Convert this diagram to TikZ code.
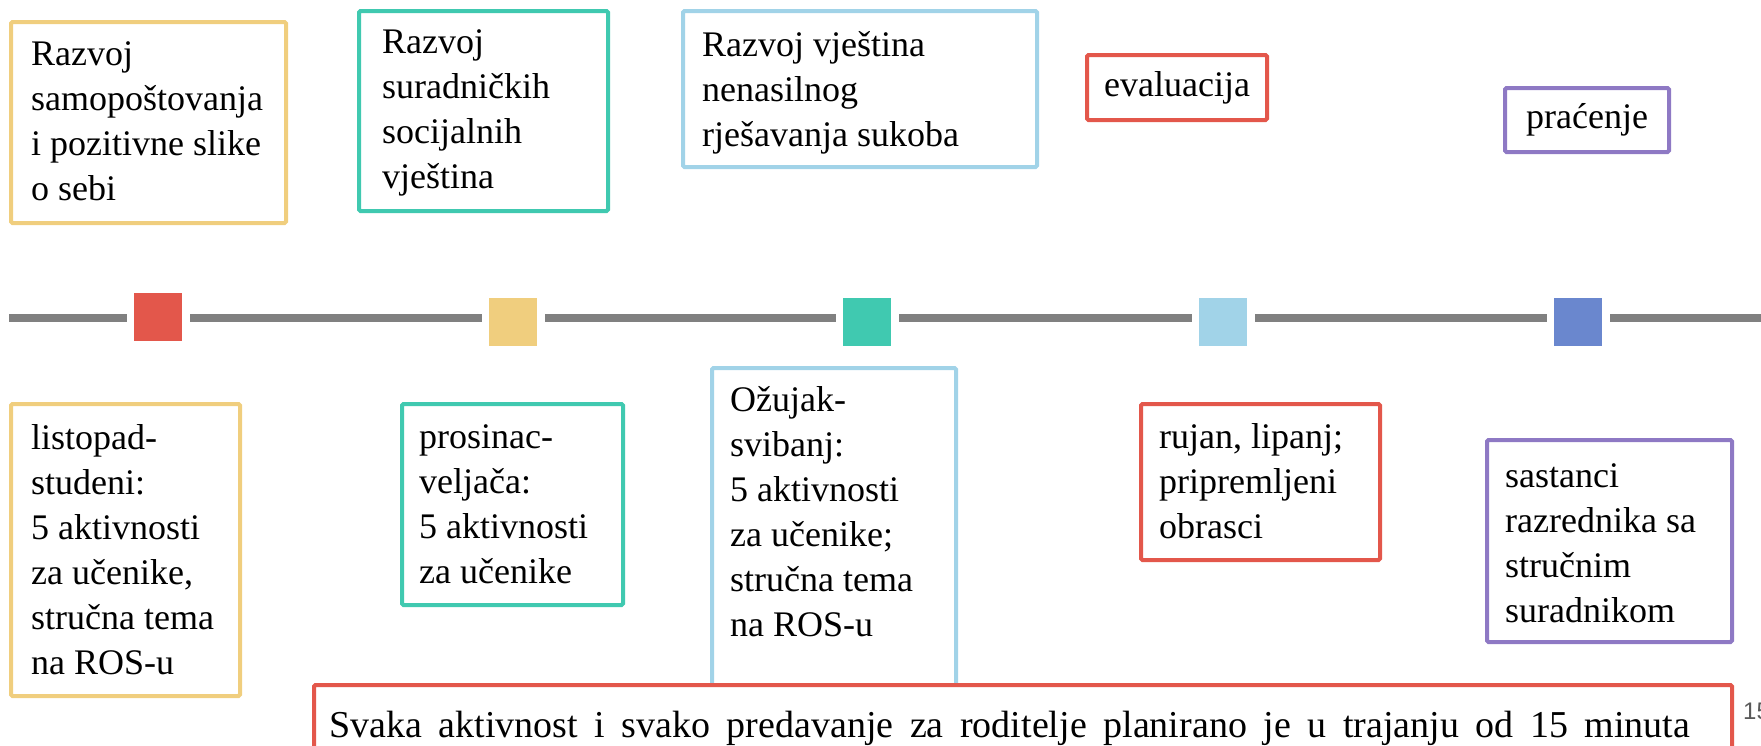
\documentclass[tikz,border=0pt]{standalone}
\usepackage{fontspec}
\setmainfont{Liberation Serif}
\setsansfont{Liberation Sans}
\definecolor{cyellow}{RGB}{240,206,126}
\definecolor{cteal}{RGB}{64,201,176}
\definecolor{cred}{RGB}{227,87,75}
\definecolor{clblue}{RGB}{161,211,232}
\definecolor{cblue}{RGB}{106,135,206}
\definecolor{cpurple}{RGB}{142,121,196}
\definecolor{cline}{RGB}{128,128,128}
\definecolor{cpage}{RGB}{89,89,89}
\newcommand{\mylines}[1]{\begin{tabular}[t]{@{}l@{}}#1\end{tabular}}
\begin{document}
\begin{tikzpicture}[x=1pt,y=-1pt,
  box/.style={draw=#1, line width=4pt, rounded corners=1.5pt, anchor=north west, inner sep=0pt},
  txt/.style={anchor=base west, inner sep=0pt, font=\fontsize{36}{45}\selectfont},
  ctxt/.style={anchor=center, inner sep=0pt, font=\fontsize{36}{45}\selectfont},
  sq/.style={fill=#1, draw=none, minimum width=48pt, minimum height=48pt, inner sep=0pt},
  tl/.style={draw=cline, line width=8pt}]
\useasboundingbox (0,0) rectangle (1761,745);
\clip (0,0) rectangle (1761,745);
% top boxes
\node[box=cyellow, minimum width=275pt, minimum height=201pt] (b1) at (9,20) {};
\node[box=cteal, minimum width=249pt, minimum height=200pt] (b2) at (357,9) {};
\node[box=clblue, minimum width=354pt, minimum height=156pt] (b3) at (681,9) {};
\node[box=cred, minimum width=180pt, minimum height=65pt] (b4) at (1085,53) {};
\node[box=cpurple, minimum width=164pt, minimum height=64pt] (b5) at (1503,86) {};
\node[txt] (t1) at (31,65) {\mylines{Razvoj\\samopoštovanja\\i pozitivne slike\\o sebi}};
\node[txt] (t2) at (382,53) {\mylines{Razvoj\\suradničkih\\socijalnih\\vještina}};
\node[txt] (t3) at (702,56) {\mylines{Razvoj vještina\\nenasilnog\\rješavanja sukoba}};
\node[ctxt] (t4) at (b4.center) {evaluacija};
\node[ctxt] (t5) at (b5.center) {praćenje};
% timeline
\coordinate (L) at (9,318);
\coordinate (R) at (1761,318);
\node[sq=cred] (s1) at (158,317) {};
\node[sq=cyellow] (s2) at (513,322) {};
\node[sq=cteal] (s3) at (867,322) {};
\node[sq=clblue] (s4) at (1223,322) {};
\node[sq=cblue] (s5) at (1578,322) {};
\draw[tl] (L) -- ([xshift=-7pt]s1.west |- L);
\draw[tl] ([xshift=8pt]s1.east |- L) -- ([xshift=-7pt]s2.west |- L);
\draw[tl] ([xshift=8pt]s2.east |- L) -- ([xshift=-7pt]s3.west |- L);
\draw[tl] ([xshift=8pt]s3.east |- L) -- ([xshift=-7pt]s4.west |- L);
\draw[tl] ([xshift=8pt]s4.east |- L) -- ([xshift=-7pt]s5.west |- L);
\draw[tl] ([xshift=8pt]s5.east |- L) -- (R);
% bottom boxes
\node[box=cyellow, minimum width=229pt, minimum height=292pt] (b6) at (9,402) {};
\node[box=cteal, minimum width=221pt, minimum height=201pt] (b7) at (400,402) {};
\node[box=clblue, minimum width=244pt, minimum height=330pt] (b8) at (710,366) {};
\node[box=cred, minimum width=239pt, minimum height=156pt] (b9) at (1139,402) {};
\node[box=cpurple, minimum width=245pt, minimum height=202pt] (b10) at (1485,438) {};
\node[txt] (t6) at (31,449) {\mylines{listopad-\\studeni:\\5 aktivnosti\\za učenike,\\stručna tema\\na ROS-u}};
\node[txt] (t7) at (419,448) {\mylines{prosinac-\\veljača:\\5 aktivnosti\\za učenike}};
\node[txt] (t8) at (730,411) {\mylines{Ožujak-\\svibanj:\\5 aktivnosti\\za učenike;\\stručna tema\\na ROS-u}};
\node[txt] (t9) at (1159,448) {\mylines{rujan, lipanj;\\pripremljeni\\obrasci}};
\node[txt] (t10) at (1505,487) {\mylines{sastanci\\razrednika sa\\stručnim\\suradnikom}};
% bottom wide box
\node[box=cred, fill=white, minimum width=1418pt, minimum height=120pt] (bt) at (312,683) {};
\node[txt, font=\fontsize{38}{45}\selectfont] (t11) at (329,737) {\makebox[1361pt][s]{Svaka aktivnost i svako predavanje za roditelje planirano je u trajanju od 15 minuta}};
\node[anchor=base west, inner sep=0pt, text=cpage, font=\sffamily\fontsize{24}{24}\selectfont] (pg) at (1743,719) {15};
\end{tikzpicture}
\end{document}
